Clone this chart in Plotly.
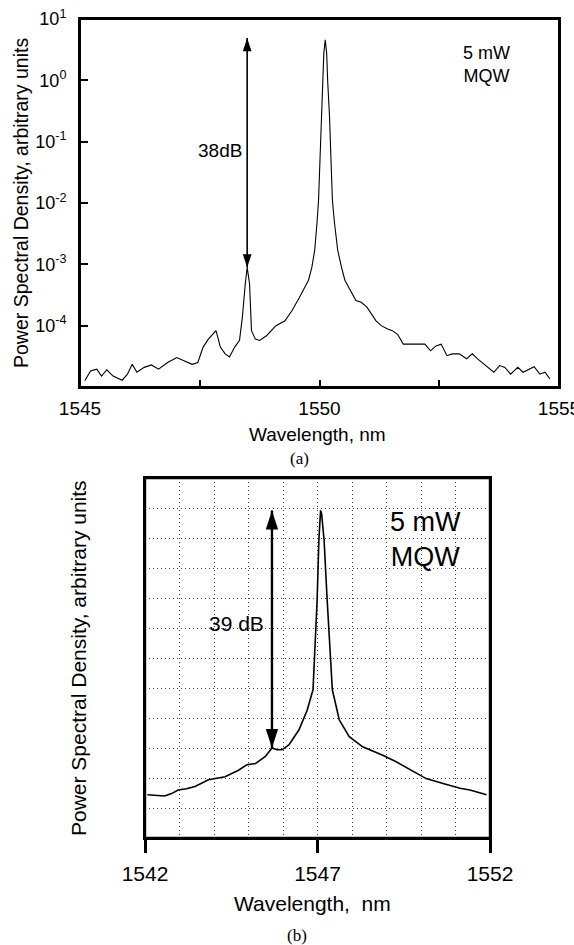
import numpy as np
import plotly.graph_objects as go

# ---------------- Panel (a): log scale PSD ----------------
wl_a = [1545.10, 1545.22, 1545.35, 1545.45, 1545.56, 1545.69, 1545.88, 1545.99, 1546.09, 1546.19,
        1546.34, 1546.49, 1546.64, 1546.83, 1547.02, 1547.15, 1547.34, 1547.46, 1547.57, 1547.68,
        1547.84, 1547.93, 1548.03, 1548.12, 1548.23, 1548.33, 1548.39, 1548.45, 1548.49, 1548.54,
        1548.58, 1548.66, 1548.75, 1548.90, 1549.09, 1549.28, 1549.43, 1549.58, 1549.77, 1549.84,
        1549.90, 1549.95, 1549.98, 1550.01, 1550.04, 1550.07, 1550.09, 1550.12, 1550.15, 1550.17,
        1550.21, 1550.24, 1550.27, 1550.31, 1550.38, 1550.46, 1550.53, 1550.76, 1550.87, 1550.99,
        1551.10, 1551.18, 1551.29, 1551.41, 1551.52, 1551.63, 1551.75, 1551.86, 1552.01, 1552.20,
        1552.32, 1552.43, 1552.54, 1552.66, 1552.77, 1552.92, 1553.07, 1553.19, 1553.30, 1553.45,
        1553.64, 1553.76, 1553.87, 1553.99, 1554.14, 1554.25, 1554.37, 1554.48, 1554.60, 1554.71,
        1554.81]
psd_a = [1.26e-5, 1.82e-5, 1.95e-5, 1.51e-5, 1.91e-5, 1.51e-5, 1.29e-5, 1.62e-5, 2.34e-5, 1.74e-5,
         2.09e-5, 2.29e-5, 1.95e-5, 2.51e-5, 3.02e-5, 2.69e-5, 2.34e-5, 2.51e-5, 4.47e-5, 6.03e-5,
         8.3e-5, 4.47e-5, 3.47e-5, 3.09e-5, 4.47e-5, 5.75e-5, 1.38e-4, 4.79e-4, 8.9e-4, 4.79e-4,
         8.3e-5, 6.03e-5, 5.75e-5, 6.92e-5, 1.0e-4, 1.2e-4, 1.78e-4, 2.88e-4, 5.5e-4, 8.9e-4,
         1.7e-3, 5.0e-3, 1.1e-2, 5.0e-2, 0.25, 1.0, 2.75, 4.57, 2.75, 1.0,
         0.25, 5.0e-2, 1.1e-2, 5.0e-3, 1.7e-3, 8.9e-4, 5.5e-4, 2.57e-4, 2.4e-4, 2.0e-4,
         1.45e-4, 1.2e-4, 1.0e-4, 8.9e-5, 8.3e-5, 7.24e-5, 5.0e-5, 5.0e-5, 5.0e-5, 5.0e-5,
         3.89e-5, 4.68e-5, 5.0e-5, 3.24e-5, 3.47e-5, 3.47e-5, 2.88e-5, 3.47e-5, 2.88e-5, 2.34e-5,
         1.74e-5, 2.24e-5, 2.09e-5, 1.62e-5, 2.09e-5, 1.74e-5, 1.95e-5, 2.14e-5, 1.62e-5, 1.74e-5,
         1.35e-5]
ytick_vals_a = [10, 1, 0.1, 0.01, 1e-3, 1e-4]
ytick_text_a = ["10<sup>1</sup>", "10<sup>0</sup>", "10<sup>-1</sup>", "10<sup>-2</sup>",
                "10<sup>-3</sup>", "10<sup>-4</sup>"]
xtick_vals_a = [1545, 1547.5, 1550, 1552.5, 1555]
xtick_text_a = ["1545", "", "1550", "", "1555"]

# ---------------- Panel (b): OSA trace, 5 dB/div ----------------
wl_b = [1542.07, 1542.57, 1542.77, 1542.96, 1543.20, 1543.45, 1543.84, 1544.10, 1544.32, 1544.71,
        1544.95, 1545.20, 1545.49, 1545.68, 1545.83, 1545.97, 1546.17, 1546.46, 1546.70, 1546.87,
        1546.99, 1547.04, 1547.09, 1547.12, 1547.19, 1547.28, 1547.43, 1547.63, 1547.92, 1548.31,
        1548.89, 1549.28, 1549.76, 1550.15, 1550.64, 1551.13, 1551.42, 1551.90]
psd_b_db = [-52.8, -53.0, -52.6, -52.0, -51.8, -51.4, -50.3, -50.0, -49.8, -48.7,
            -47.8, -47.6, -46.4, -45.0, -45.3, -45.3, -44.5, -42.0, -38.7, -35.3,
            -20.3, -10.3, -5.4, -6.0, -10.3, -20.3, -35.3, -40.3, -43.1, -44.8,
            -46.2, -47.3, -48.9, -50.1, -50.9, -51.7, -52.0, -52.8]
xtick_vals_b = [1542, 1547, 1552]
ygrid_b = list(range(-55, 0, 5))

W, H = 574, 945
FONT = "Liberation Sans, Arial, sans-serif"
SERIF = "Liberation Serif, Times New Roman, serif"
GRID = "#444"
DOT = "1px,3px"

# panel boxes in figure pixels
A_L, A_R, A_T, A_B = 80, 559, 19, 387
B_L, B_R, B_T, B_B = 145, 490, 478, 838

fig = go.Figure()

fig.add_trace(go.Scatter(x=wl_a, y=psd_a, mode="lines", line=dict(color="black", width=1.1),
                         xaxis="x", yaxis="y", showlegend=False, hoverinfo="skip"))
fig.add_trace(go.Scatter(x=wl_b, y=psd_b_db, mode="lines", line=dict(color="black", width=1.6),
                         xaxis="x2", yaxis="y2", showlegend=False, hoverinfo="skip"))

# arrow (a): from side-mode peak up to main peak
wa = np.array(wl_a); pa = np.array(psd_a)
mask = (wa > 1548.3) & (wa < 1548.7)
i_side = np.where(mask)[0][np.argmax(pa[mask])]
xa = wa[i_side]; ya_bot = pa[i_side]; ya_top = pa.max() * 1.07
fig.add_trace(go.Scatter(x=[xa, xa], y=[ya_bot, ya_top], mode="lines",
                         line=dict(color="black", width=1.6), xaxis="x", yaxis="y",
                         showlegend=False, hoverinfo="skip"))
fig.add_trace(go.Scatter(x=[xa, xa], y=[ya_top, ya_bot], mode="markers",
                         marker=dict(symbol="arrow", size=14, angle=[0, 180], color="black"),
                         xaxis="x", yaxis="y", showlegend=False, hoverinfo="skip"))

# arrow (b)
wb = np.array(wl_b); pb = np.array(psd_b_db)
mask_b = (wb > 1545.5) & (wb < 1545.8)
i_sb = np.where(mask_b)[0][np.argmax(pb[mask_b])]
xb = wb[i_sb]; yb_bot = pb[i_sb]; yb_top = pb.max()
fig.add_trace(go.Scatter(x=[xb, xb], y=[yb_bot, yb_top], mode="lines",
                         line=dict(color="black", width=2.4), xaxis="x2", yaxis="y2",
                         showlegend=False, hoverinfo="skip"))
fig.add_trace(go.Scatter(x=[xb, xb], y=[yb_top, yb_bot], mode="markers",
                         marker=dict(symbol="arrow", size=20, angle=[0, 180], color="black"),
                         xaxis="x2", yaxis="y2", showlegend=False, hoverinfo="skip"))


def px_x(p):
    return p / W


def px_y(p):
    return 1 - p / H


fig.update_layout(
    width=W, height=H,
    margin=dict(l=0, r=0, t=0, b=0, autoexpand=False),
    paper_bgcolor="white", plot_bgcolor="white",
    font=dict(family=FONT, color="black"),
    xaxis=dict(domain=[px_x(A_L), px_x(A_R)], range=[1545, 1555], anchor="y", automargin=False,
               tickvals=xtick_vals_a, ticktext=xtick_text_a, ticks="inside", ticklen=7,
               tickwidth=1.5, tickcolor="black", showline=True, mirror=True,
               linecolor="black", linewidth=2, showgrid=False, zeroline=False,
               tickfont=dict(size=19), ticklabelstandoff=3, ticklabeloverflow="allow"),
    yaxis=dict(domain=[px_y(A_B), px_y(A_T)], type="log", range=[-5, 1], anchor="x",
               automargin=False,
               tickvals=ytick_vals_a, ticktext=ytick_text_a, ticks="inside", ticklen=8,
               tickwidth=1.5, tickcolor="black", showline=True, mirror=True,
               linecolor="black", linewidth=2, showgrid=False, zeroline=False,
               tickfont=dict(size=18), ticklabelstandoff=8, ticklabeloverflow="allow"),
    xaxis2=dict(domain=[px_x(B_L), px_x(B_R)], range=[1542, 1552], anchor="y2",
                automargin=False,
                tickvals=xtick_vals_b, ticks="outside", ticklen=13, tickwidth=2.5,
                tickcolor="black", showline=True, mirror=True, linecolor="black",
                linewidth=2.4, showgrid=True, griddash=DOT, gridcolor=GRID,
                gridwidth=1, zeroline=False, tickfont=dict(size=21), ticklabelstandoff=3,
                ticklabeloverflow="allow",
                minor=dict(dtick=1, showgrid=True, griddash=DOT, gridcolor=GRID,
                           gridwidth=1, ticks="")),
    yaxis2=dict(domain=[px_y(B_B), px_y(B_T)], range=[-60, 0], anchor="x2",
                automargin=False,
                tickvals=ygrid_b, showticklabels=False, ticks="", showline=True,
                mirror=True, linecolor="black", linewidth=2.4, showgrid=True,
                griddash=DOT, gridcolor=GRID, gridwidth=1, zeroline=False),
    shapes=[
        dict(type="rect", xref="paper", yref="paper", x0=px_x(A_L), x1=px_x(A_R),
             y0=px_y(A_B), y1=px_y(A_T), line=dict(color="black", width=2),
             fillcolor="rgba(0,0,0,0)", layer="above"),
        dict(type="rect", xref="paper", yref="paper", x0=px_x(B_L), x1=px_x(B_R),
             y0=px_y(B_B), y1=px_y(B_T), line=dict(color="black", width=2.4),
             fillcolor="rgba(0,0,0,0)", layer="above"),
    ],
)

ann = []
ann.append(dict(text="Power Spectral Density, arbitrary units", xref="paper", yref="paper",
                x=px_x(21), y=px_y(203), textangle=-90, showarrow=False,
                font=dict(size=19.5, family=FONT), xanchor="center", yanchor="middle"))
ann.append(dict(text="Wavelength, nm", xref="paper", yref="paper", x=px_x(317), y=px_y(434),
                showarrow=False, font=dict(size=19, family=FONT),
                xanchor="center", yanchor="middle"))
ann.append(dict(text="(a)", xref="paper", yref="paper", x=px_x(299), y=px_y(458),
                showarrow=False, font=dict(size=17, family=SERIF),
                xanchor="center", yanchor="middle"))
ann.append(dict(text="38dB", xref="x", yref="y", x=1547.92, y=np.log10(0.072),
                showarrow=False, font=dict(size=19, family=FONT),
                xanchor="center", yanchor="middle"))
ann.append(dict(text="5 mW<br>MQW", xref="x", yref="y", x=1553.48, y=np.log10(1.78),
                showarrow=False, font=dict(size=18, family=FONT), align="center",
                xanchor="center", yanchor="middle"))
ann.append(dict(text="Power Spectral Density, arbitrary units", xref="paper", yref="paper",
                x=px_x(78), y=px_y(658), textangle=-90, showarrow=False,
                font=dict(size=21, family=FONT), xanchor="center", yanchor="middle"))
ann.append(dict(text="Wavelength,  nm", xref="paper", yref="paper", x=px_x(312), y=px_y(903),
                showarrow=False, font=dict(size=21, family=FONT),
                xanchor="center", yanchor="middle"))
ann.append(dict(text="(b)", xref="paper", yref="paper", x=px_x(297), y=px_y(935),
                showarrow=False, font=dict(size=17, family=SERIF),
                xanchor="center", yanchor="middle"))
ann.append(dict(text="39 dB", xref="x2", yref="y2", x=1544.64, y=-24.2,
                showarrow=False, font=dict(size=21, family=FONT),
                xanchor="center", yanchor="middle"))
ann.append(dict(text="5 mW<br>MQW", xref="x2", yref="y2", x=1550.13, y=-10.2,
                showarrow=False, font=dict(size=27, family=FONT), align="center",
                xanchor="center", yanchor="middle"))
fig.update_layout(annotations=ann)

fig.write_html(
    "out.html",
    config={"displayModeBar": False},
    post_script="document.body.style.margin='0';document.documentElement.style.overflow='hidden';",
)
